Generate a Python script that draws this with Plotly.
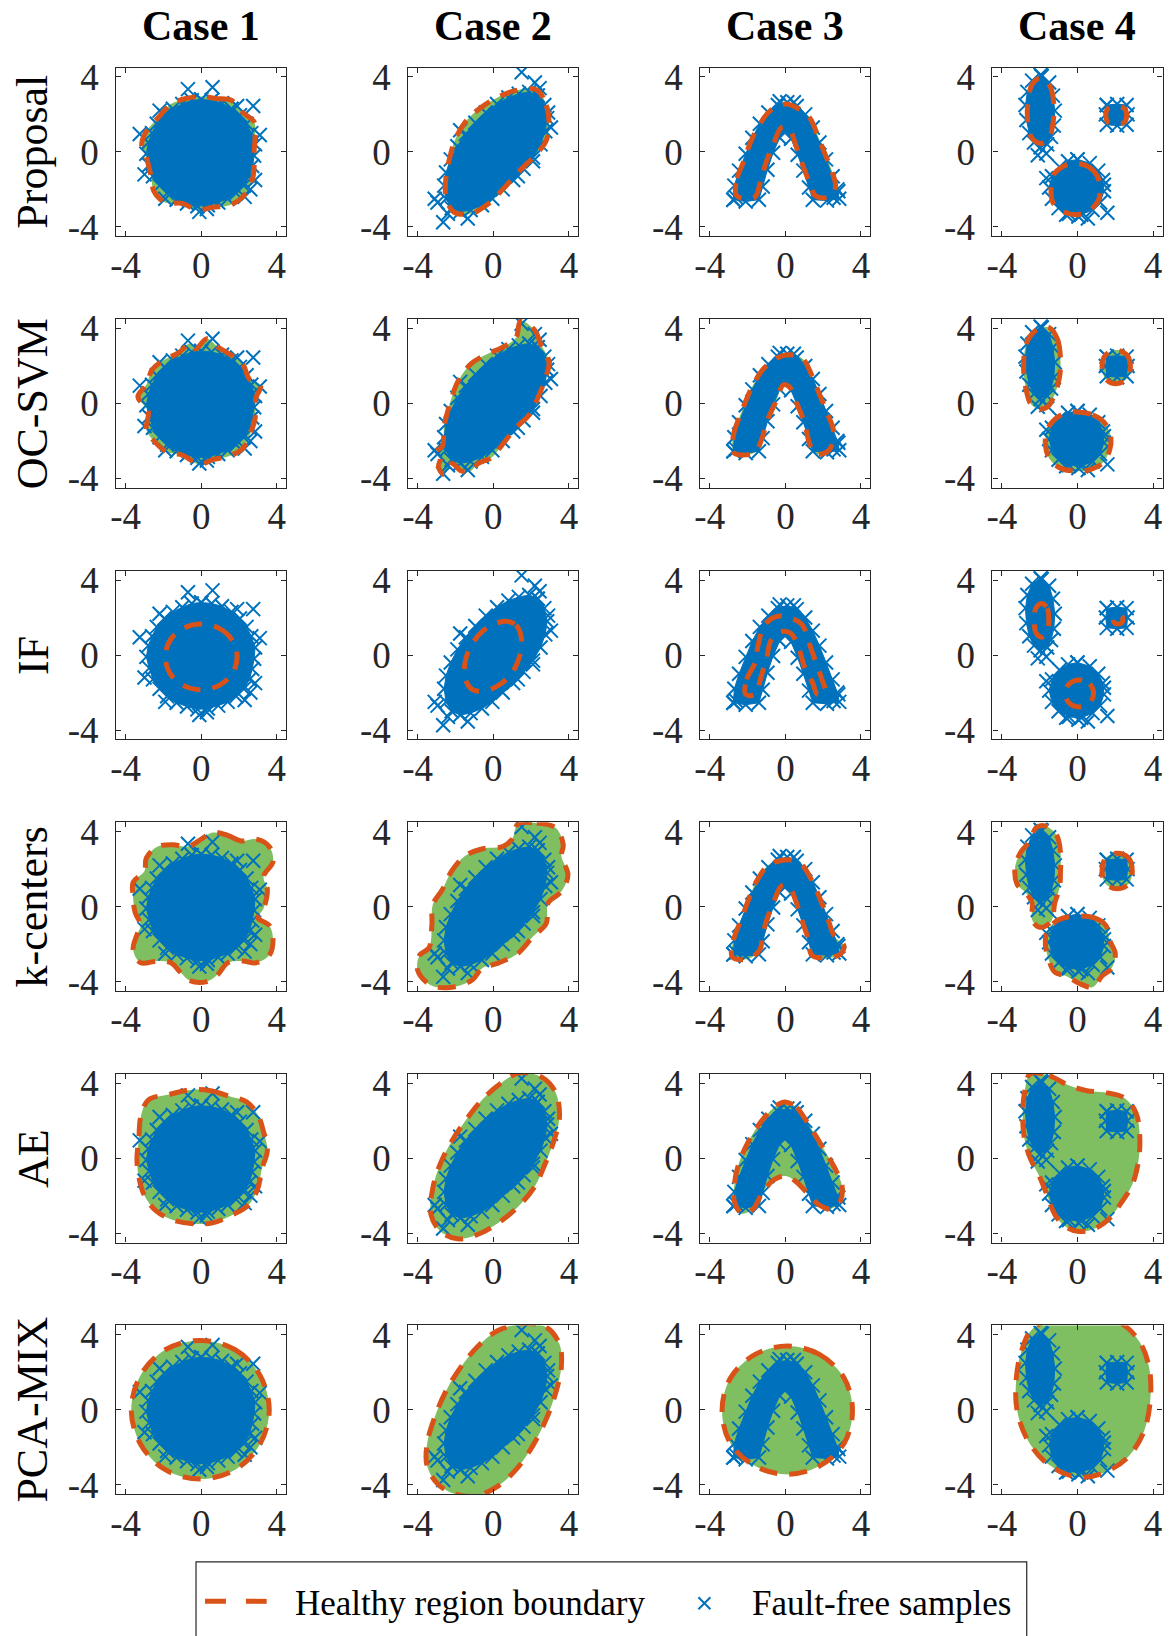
import plotly.graph_objects as go

BLUE = "#0072BD"
ORANGE = "#D95319"
GREEN = "#7FBF62"
AXIS = "#262626"
FONT = "Liberation Serif, Times New Roman, serif"

W, H = 1169, 1636

cases = ["Case 1", "Case 2", "Case 3", "Case 4"]
methods = ["Proposal", "OC-SVM", "IF", "k-centers", "AE", "PCA-MIX"]
tick_vals = [-4, 0, 4]
tick_text = ["-4", "0", "4"]
axis_range = [-4.5, 4.5]

# ---- fault-free samples: outer ring of the dense cloud (loops split by None) ----
ring_x = [
    [0.0, 0.55, 1.1, 1.6, 2.05, 2.4, 2.65, 2.85, 2.8, 2.7, 2.55, 2.25, 1.85, 1.4, 0.9, 0.35,
     -0.2, -0.75, -1.3, -1.8, -2.2, -2.55, -2.75, -2.9, -2.8, -2.6, -2.35, -1.95, -1.5, -1.0, -0.5],
    [2.35, 2.7, 2.85, 2.75, 2.5, 2.1, 1.6, 1.05, 0.5, -0.05, -0.6, -1.2, -1.75, -2.2, -2.5, -2.6,
     -2.5, -2.25, -1.9, -1.45, -0.95, -0.4, 0.2, 0.8, 1.35, 1.9],
    [-2.75, -2.7, -2.45, -2.1, -1.75, -1.35, -0.9, -0.4, 0.1, 0.6, 1.05, 1.45, 1.8, 2.15, 2.5, 2.75,
     2.85, 2.2, 1.45, 1.25, 0.95, 0.65, 0.3, 0.0, -0.3, -0.65, -0.95, -1.2, -1.4, -2.1],
    [-1.9, -1.5, -1.3, -1.2, -1.25, -1.4, -1.6, -1.95, -2.3, -2.55, -2.7, -2.75, -2.65, -2.4, None,
     0.0, 0.65, 1.1, 1.35, 1.4, 1.2, 0.8, 0.2, -0.45, -1.0, -1.35, -1.5, -1.35, -0.95, -0.5, None,
     1.55, 2.1, 2.6, 2.65, 2.6, 2.1, 1.55, 1.5],
]
ring_y = [
    [2.8, 2.75, 2.6, 2.3, 1.95, 1.5, 1.0, 0.4, -0.2, -0.75, -1.3, -1.8, -2.2, -2.5, -2.7, -2.85,
     -2.9, -2.75, -2.55, -2.2, -1.8, -1.3, -0.7, -0.1, 0.5, 1.0, 1.5, 1.95, 2.3, 2.55, 2.75],
    [3.0, 2.5, 1.8, 1.1, 0.4, -0.3, -0.9, -1.5, -2.0, -2.5, -2.85, -3.1, -3.2, -3.0, -2.5, -1.8,
     -1.1, -0.4, 0.3, 0.95, 1.55, 2.1, 2.55, 2.9, 3.1, 3.2],
    [-2.55, -1.8, -1.0, -0.1, 0.75, 1.5, 2.1, 2.5, 2.65, 2.45, 2.0, 1.3, 0.5, -0.4, -1.3, -2.0,
     -2.5, -2.6, -2.55, -1.9, -1.0, -0.15, 0.7, 1.1, 0.75, -0.05, -0.95, -1.85, -2.55, -2.65],
    [4.05, 3.7, 3.0, 2.2, 1.4, 0.8, 0.4, 0.25, 0.5, 1.0, 1.7, 2.5, 3.2, 3.8, None,
     -0.4, -0.6, -1.0, -1.5, -2.1, -2.7, -3.1, -3.35, -3.3, -3.0, -2.5, -1.9, -1.3, -0.8, -0.5, None,
     2.5, 2.55, 2.5, 2.0, 1.45, 1.4, 1.45, 2.0],
]

# ---- isolated fault-free samples outside the dense cloud ----
out_x = [
    [-0.7, 0.6, 2.75, 3.1, -3.25, -3.0, 2.6, 2.85, -0.1, 0.3, 1.9, -2.2, 2.3, -1.9],
    [1.5, 2.2, 2.45, 2.9, 3.05, -1.75, -2.95, -2.65, -1.35, -2.4, 2.1, 1.3, -3.1],
    [2.8, -2.6, 2.55, -0.3, 0.45],
    [-2.1, -1.65, -1.65, 1.4, 1.58, 0.55, -0.6, 0.05, -1.95],
]
out_y = [
    [3.35, 3.45, 2.45, 0.9, 0.95, -1.2, -2.0, -1.5, -3.2, -3.05, 2.45, 2.2, -2.4, -2.5],
    [4.25, 3.7, 3.4, 2.1, 1.3, 1.15, -2.7, -3.75, -3.55, -3.3, -0.5, -1.3, -2.5],
    [-2.1, -2.45, -2.45, 2.7, 2.65],
    [-0.18, -0.09, -1.4, -1.75, -3.25, -3.55, -3.35, -3.45, 4.1],
]

# ---- healthy region boundaries, one list per method, one entry per case ----
proposal_bx = [
    [0, 0.8, 1.6, 2.2, 2.8, 2.85, 2.8, 2.8, 2.7, 2.2, 1.5, 0.6, -0.2, -1.0, -1.9, -2.5, -2.65,
     -2.9, -3.15, -2.9, -2.3, -1.6, -0.8],
    [2.3, 2.8, 2.95, 2.8, 2.3, 1.4, 0.5, -0.3, -1.2, -2.1, -2.5, -2.5, -2.3, -2.0, -1.4, -0.6, 0.4, 1.3],
    [-2.6, -2.55, -2.2, -1.85, -1.4, -0.8, 0, 0.7, 1.3, 1.7, 2.05, 2.45, 2.65, 2.3, 1.6, 1.3, 0.95,
     0.6, 0.2, -0.2, -0.6, -1.0, -1.3, -1.6, -2.1],
    [-1.95, -1.45, -1.25, -1.3, -1.5, -1.95, -2.45, -2.65, -2.6, -2.4, None,
     -0.1, 0.6, 1.05, 1.2, 1.1, 0.6, -0.1, -0.8, -1.3, -1.4, -1.25, -0.8, None,
     2.05, 2.5, 2.6, 2.5, 2.05, 1.6, 1.5, 1.6],
]
proposal_by = [
    [2.95, 2.85, 2.75, 2.1, 1.6, 0.8, 0.0, -0.8, -1.5, -2.4, -2.85, -2.95, -3.1, -2.75, -2.7, -2.1,
     -1.3, -0.3, 0.4, 1.1, 1.8, 2.55, 2.85],
    [3.3, 2.5, 1.6, 0.6, -0.1, -1.0, -2.0, -2.8, -3.3, -3.2, -2.4, -1.3, -0.3, 0.7, 1.7, 2.4, 3.0, 3.3],
    [-2.3, -1.4, -0.5, 0.5, 1.4, 2.2, 2.55, 2.3, 1.8, 0.9, 0.0, -1.0, -1.9, -2.4, -2.35, -1.7, -0.8,
     0.2, 1.2, 1.3, 0.5, -0.5, -1.5, -2.4, -2.5],
    [3.95, 3.5, 2.5, 1.5, 0.75, 0.45, 0.8, 1.8, 2.8, 3.6, None,
     -0.6, -0.8, -1.3, -1.95, -2.6, -3.15, -3.35, -3.15, -2.7, -1.95, -1.2, -0.8, None,
     2.45, 2.3, 1.95, 1.6, 1.45, 1.6, 1.95, 2.3],
]

ocsvm_bx = [
    [0.3, 0.9, 1.7, 2.2, 2.55, 3.15, 2.9, 2.85, 2.6, 2.2, 1.5, 0.6, -0.1, -1.0, -1.8, -2.5, -2.9,
     -2.8, -3.35, -2.9, -2.6, -2.0, -1.2, -0.6, -0.3],
    [1.45, 2.2, 2.5, 2.95, 2.7, 2.4, 1.9, 1.2, 0.4, -0.1, -0.8, -1.2, -1.7, -2.2, -2.6, -2.9, -2.8,
     -3.1, -2.7, -2.6, -2.35, -2.0, -1.8, -1.2, -0.4, 0.5, 1.2],
    [-2.75, -2.75, -2.3, -1.8, -1.2, -0.5, 0.2, 0.9, 1.4, 1.8, 2.2, 2.55, 2.3, 1.6, 1.3, 1.0, 0.6,
     0.2, -0.1, -0.5, -0.95, -1.25, -1.6, -2.3],
    [-1.5, -1.05, -0.9, -0.95, -1.2, -1.55, -2.0, -2.45, -2.75, -2.85, -2.7, -2.2, None,
     0.0, 0.8, 1.4, 1.75, 1.7, 1.3, 0.6, -0.2, -0.9, -1.45, -1.7, -1.6, -1.2, -0.6, None,
     2.05, 2.6, 2.8, 2.6, 2.05, 1.5, 1.3, 1.5],
]
ocsvm_by = [
    [3.45, 3.0, 2.5, 2.1, 1.3, 0.95, 0.3, -0.8, -1.6, -2.4, -2.8, -3.0, -3.25, -2.75, -2.6, -2.0,
     -1.4, -0.4, 0.35, 1.0, 1.8, 2.3, 2.7, 3.2, 2.9],
    [4.4, 3.9, 3.2, 2.2, 1.2, 0.4, -0.6, -1.3, -2.3, -2.9, -3.2, -3.6, -3.6, -3.2, -3.8, -3.4, -2.9,
     -2.6, -2.3, -1.2, -0.2, 0.9, 1.3, 2.1, 2.6, 3.0, 3.5],
    [-2.6, -1.7, -0.4, 0.8, 1.8, 2.4, 2.6, 2.4, 1.5, 0.5, -0.5, -1.5, -2.5, -2.7, -2.2, -1.0, 0.0,
     0.9, 1.0, 0.1, -0.9, -1.9, -2.6, -2.75],
    [4.05, 3.4, 2.4, 1.4, 0.5, -0.15, -0.3, -0.05, 0.9, 2.0, 3.2, 3.9, None,
     -0.45, -0.6, -1.0, -1.7, -2.5, -3.2, -3.55, -3.6, -3.45, -3.0, -2.2, -1.4, -0.85, -0.5, None,
     2.85, 2.6, 1.95, 1.3, 1.05, 1.3, 1.95, 2.6],
]

if_bx = [
    [0, 0.95, 1.65, 1.9, 1.65, 0.95, 0, -0.95, -1.65, -1.9, -1.65, -0.95],
    [0.6, 1.2, 1.5, 1.35, 0.95, 0.3, -0.4, -1.1, -1.5, -1.45, -1.05, -0.4],
    [-2.1, -2.05, -1.6, -1.45, -1.1, -0.5, 0.2, 0.9, 1.2, 1.55, 1.9, 2.1, 1.7, 1.45, 1.0, 0.7, 0.3,
     -0.2, -0.75, -1.0, -1.3, -1.6],
    [-1.9, -1.6, -1.52, -1.6, -1.9, -2.2, -2.28, -2.2, None,
     0.1, 0.65, 0.85, 0.65, 0.1, -0.45, -0.65, -0.45, None,
     2.15, 2.35, 2.4, 2.35, 2.15, 1.95, 1.9, 1.95],
]
if_by = [
    [1.65, 1.42, 0.78, -0.1, -0.98, -1.62, -1.85, -1.62, -0.98, -0.1, 0.78, 1.42],
    [1.8, 1.6, 0.8, -0.2, -1.0, -1.6, -1.9, -1.85, -1.2, -0.2, 0.7, 1.4],
    [-2.1, -1.3, -0.4, 0.5, 1.6, 2.05, 2.0, 1.6, 0.8, -0.2, -1.2, -2.0, -2.1, -1.5, -0.6, 0.4, 1.15,
     1.25, 0.8, -0.2, -1.2, -2.1],
    [2.75, 2.5, 1.85, 1.2, 0.95, 1.2, 1.85, 2.5, None,
     -1.33, -1.55, -2.05, -2.55, -2.77, -2.55, -2.05, -1.55, None,
     2.15, 2.08, 1.9, 1.72, 1.65, 1.72, 1.9, 2.08],
]

kcenters_bx = [
    [0.6, 1.4, 2.1, 2.9, 3.6, 3.8, 3.3, 3.5, 3.3, 3.0, 3.6, 3.8, 3.6, 2.9, 2.2, 1.4, 0.9, 0.3, -0.6,
     -1.1, -1.6, -2.3, -3.2, -3.6, -3.4, -3.2, -3.5, -3.6, -3.6, -3.0, -2.9, -2.3, -1.5, -0.7, 0.0],
    [1.3, 2.3, 3.3, 3.7, 3.6, 3.95, 3.6, 2.9, 2.8, 2.1, 1.3, 0.3, -0.6, -1.1, -2.2, -3.3, -4.0, -3.9,
     -3.4, -3.25, -3.2, -2.7, -2.2, -1.5, -0.5, 0.5, 1.0],
    [-2.8, -2.75, -2.3, -1.9, -1.5, -0.9, 0.1, 0.8, 1.4, 1.8, 2.2, 2.6, 3.1, 2.9, 2.0, 1.4, 1.2, 0.9,
     0.55, 0.2, -0.2, -0.6, -0.95, -1.2, -1.35, -2.0],
    [-1.7, -1.1, -0.9, -0.9, -0.95, -1.2, -1.4, -2.0, -2.4, -2.4, -2.7, -3.2, -3.3, -3.0, -2.5, -2.2, None,
     0.0, 0.9, 1.5, 1.7, 2.0, 1.8, 1.3, 0.8, 0.1, -0.6, -1.2, -1.5, -1.7, -1.6, -1.0, None,
     2.1, 2.7, 2.9, 2.7, 2.1, 1.5, 1.3, 1.5],
]
kcenters_by = [
    [3.95, 3.8, 3.5, 3.6, 3.2, 2.4, 1.6, 0.9, -0.1, -0.6, -1.0, -1.8, -2.6, -3.0, -2.9, -3.0, -3.6,
     -4.0, -3.95, -3.5, -3.0, -2.9, -3.0, -2.3, -1.5, -1.0, -0.3, 0.5, 1.3, 1.9, 2.6, 3.2, 3.3, 3.2, 3.6],
    [4.4, 4.45, 4.2, 3.3, 2.7, 1.7, 0.8, 0.2, -0.9, -1.6, -2.5, -3.0, -3.3, -3.9, -4.3, -4.2, -3.4,
     -2.6, -2.2, -1.0, 0.1, 0.9, 1.9, 2.7, 3.1, 3.2, 3.6],
    [-2.7, -1.8, -0.6, 0.5, 1.4, 2.2, 2.5, 2.3, 1.4, 0.5, -0.5, -1.6, -2.1, -2.55, -2.75, -2.6, -1.7,
     -0.8, 0.3, 1.05, 1.1, 0.3, -0.6, -1.5, -2.3, -2.8],
    [4.3, 3.8, 2.9, 1.8, 1.0, 0.2, -0.8, -1.1, -0.7, 0.2, 0.7, 1.2, 2.1, 2.9, 3.5, 4.2, None,
     -0.5, -0.6, -1.0, -1.8, -2.5, -3.3, -3.7, -4.3, -4.1, -3.7, -3.5, -2.9, -2.0, -1.3, -0.7, None,
     2.85, 2.6, 1.9, 1.2, 0.95, 1.2, 1.9, 2.6],
]

ae_bx = [
    [-0.5, 0.5, 1.5, 2.4, 3.0, 3.3, 3.5, 3.2, 3.0, 2.5, 1.7, 0.6, -0.4, -1.5, -2.4, -3.0, -3.3, -3.4,
     -3.3, -3.2, -2.8, -1.7],
    [1.4, 2.6, 3.3, 3.5, 3.2, 2.7, 2.2, 1.3, 0.2, -0.9, -1.9, -2.8, -3.3, -3.2, -2.8, -2.2, -1.4, -0.6, 0.4],
    [0, 0.6, 1.1, 1.6, 2.2, 2.7, 3.0, 2.9, 2.4, 1.8, 1.2, 0.5, 0, -0.6, -1.2, -1.7, -2.3, -2.7, -2.7,
     -2.5, -2.1, -1.6, -1.0, -0.5],
    [-2.5, -1.5, -0.5, 0.5, 1.5, 2.5, 3.1, 3.3, 3.2, 2.9, 2.3, 1.6, 0.8, 0.0, -0.7, -1.2, -1.6, -2.0,
     -2.5, -2.8, -2.9, -2.8],
]
ae_by = [
    [3.65, 3.6, 3.3, 3.0, 2.3, 1.4, 0.4, -0.6, -1.6, -2.5, -3.0, -3.45, -3.5, -3.3, -2.8, -2.0, -1.0,
     0.0, 1.0, 2.2, 3.1, 3.4],
    [4.55, 4.3, 3.5, 2.2, 0.9, -0.4, -1.5, -2.6, -3.5, -4.1, -4.3, -3.9, -3.0, -1.6, -0.3, 0.9, 2.1, 3.1, 4.0],
    [3.0, 2.7, 2.0, 1.2, 0.2, -0.7, -1.5, -2.3, -2.7, -2.5, -1.9, -1.2, -0.95, -1.15, -1.8, -2.7, -2.95,
     -2.3, -1.4, -0.4, 0.6, 1.5, 2.3, 2.8],
    [4.5, 4.4, 3.9, 3.6, 3.5, 3.2, 2.4, 1.0, -0.3, -1.4, -2.4, -3.3, -3.8, -3.9, -3.6, -3.0, -2.0, -1.0,
     0.0, 1.0, 2.2, 3.5],
]

pcamix_bx = [
    [-0.05, 1.8, 3.1, 3.6, 3.1, 1.8, -0.05, -1.9, -3.2, -3.7, -3.2, -1.9],
    [1.6, 2.8, 3.5, 3.6, 3.3, 2.8, 2.1, 1.2, 0.2, -0.9, -2.0, -2.9, -3.5, -3.5, -3.1, -2.5, -1.7, -0.8, 0.2],
    [0.1, 1.8, 3.1, 3.55, 3.1, 1.8, 0.1, -1.6, -2.9, -3.35, -2.9, -1.6],
    [-1.0, 0.8, 2.3, 3.3, 3.8, 3.85, 3.5, 2.6, 1.3, 0.3, -0.7, -1.8, -2.7, -3.2, -3.25, -3.0, -2.4],
]
pcamix_by = [
    [3.7, 3.2, 1.85, 0, -1.85, -3.2, -3.7, -3.2, -1.85, 0, 1.85, 3.2],
    [4.6, 4.4, 3.5, 2.3, 0.9, -0.5, -1.9, -3.2, -4.1, -4.6, -4.5, -4.0, -3.0, -1.8, -0.4, 1.0, 2.3, 3.4, 4.2],
    [3.4, 2.95, 1.7, -0.05, -1.8, -3.0, -3.45, -3.0, -1.8, -0.05, 1.7, 2.95],
    [4.9, 4.9, 4.6, 3.6, 2.2, 0.5, -1.2, -2.6, -3.4, -3.6, -3.4, -2.7, -1.5, 0.0, 1.5, 3.0, 4.3],
]

boundaries_x = [proposal_bx, ocsvm_bx, if_bx, kcenters_bx, ae_bx, pcamix_bx]
boundaries_y = [proposal_by, ocsvm_by, if_by, kcenters_by, ae_by, pcamix_by]


def close_loops(xs, ys):
    """Repeat the first vertex of every None-separated loop at its end."""
    cx, cy, sx, sy = [], [], [], []
    for x, y in list(zip(xs, ys)) + [(None, None)]:
        if x is None:
            if sx:
                cx += sx + [sx[0], None]
                cy += sy + [sy[0], None]
            sx, sy = [], []
        else:
            sx.append(x)
            sy.append(y)
    return cx[:-1], cy[:-1]


# ---- page geometry (pixels) ----
col_left = [110.7, 404.3, 697.9, 991.5]
row_top = [57.3 + 255.0 * r for r in range(6)]
box = 171.0

fig = go.Figure()
layout = dict(
    width=W, height=H, autosize=False,
    margin=dict(l=0, r=0, t=0, b=0),
    paper_bgcolor="white", plot_bgcolor="rgba(0,0,0,0)",
    showlegend=False, hovermode=False,
)

sample_marker = dict(symbol="x-thin", size=14, color=BLUE, line=dict(width=2, color=BLUE))

for r in range(6):
    for c in range(4):
        k = r * 4 + c + 1
        xa = "x" if k == 1 else f"x{k}"
        ya = "y" if k == 1 else f"y{k}"
        bx, by = close_loops(boundaries_x[r][c], boundaries_y[r][c])
        sx, sy = close_loops(ring_x[c], ring_y[c])

        # healthy region (green area)
        fig.add_trace(go.Scatter(
            x=bx, y=by, xaxis=xa, yaxis=ya, mode="lines", fill="toself",
            fillcolor=GREEN, line=dict(width=0, shape="spline", smoothing=1.0, color=GREEN),
        ))
        # dense cloud of fault-free samples
        fig.add_trace(go.Scatter(
            x=sx, y=sy, xaxis=xa, yaxis=ya, mode="lines+markers", fill="toself",
            fillcolor=BLUE, line=dict(width=1, color=BLUE), marker=sample_marker,
        ))
        # isolated fault-free samples
        fig.add_trace(go.Scatter(
            x=out_x[c], y=out_y[c], xaxis=xa, yaxis=ya, mode="markers", marker=sample_marker,
        ))
        # healthy region boundary
        fig.add_trace(go.Scatter(
            x=bx, y=by, xaxis=xa, yaxis=ya, mode="lines",
            line=dict(color=ORANGE, width=5, dash="18px,12px", shape="spline", smoothing=1.0),
        ))

        common = dict(
            range=axis_range, tickvals=tick_vals, ticktext=tick_text,
            ticks="inside", ticklen=5, tickwidth=1, tickcolor=AXIS,
            showline=True, linewidth=1.2, linecolor=AXIS, mirror="ticks",
            showgrid=False, zeroline=False, fixedrange=True,
            tickfont=dict(family=FONT, size=37, color=AXIS),
        )
        x0 = col_left[c] / W
        x1 = (col_left[c] + box) / W
        y1 = 1 - row_top[r] / H
        y0 = 1 - (row_top[r] + box) / H
        layout["xaxis" if k == 1 else f"xaxis{k}"] = dict(
            common, domain=[x0, x1], anchor=ya, ticklabelstandoff=-4)
        layout["yaxis" if k == 1 else f"yaxis{k}"] = dict(
            common, domain=[y0, y1], anchor=xa, ticklabelstandoff=9)

# ---- legend drawn on a pixel-coordinate overlay ----
layout["xaxis25"] = dict(domain=[0, 1], range=[0, W], visible=False, fixedrange=True, anchor="y25")
layout["yaxis25"] = dict(domain=[0, 1], range=[H, 0], visible=False, fixedrange=True, anchor="x25")
fig.add_trace(go.Scatter(
    x=[200, 262], y=[1612, 1612], xaxis="x25", yaxis="y25", mode="lines",
    line=dict(color=ORANGE, width=5, dash="21px,20px"), name="Healthy region boundary",
))
fig.add_trace(go.Scatter(
    x=[702], y=[1614], xaxis="x25", yaxis="y25", mode="markers",
    marker=dict(symbol="x-thin", size=12, color=BLUE, line=dict(width=2, color=BLUE)),
    name="Fault-free samples",
))

annotations = []
for c, name in enumerate(cases):
    annotations.append(dict(
        x=(col_left[c] + box / 2) / W, y=1 - 15 / H, xref="paper", yref="paper",
        text=f"<b>{name}</b>", showarrow=False, xanchor="center", yanchor="middle",
        font=dict(family=FONT, size=42, color="black"),
    ))
for r, name in enumerate(methods):
    annotations.append(dict(
        x=27 / W, y=1 - (row_top[r] + box / 2) / H, xref="paper", yref="paper",
        text=name, showarrow=False, textangle=-90, xanchor="center", yanchor="middle",
        font=dict(family=FONT, size=44, color="black"),
    ))
annotations.append(dict(
    x=288 / W, y=1 - 1614 / H, xref="paper", yref="paper", text="Healthy region boundary",
    showarrow=False, xanchor="left", yanchor="middle", font=dict(family=FONT, size=35, color="black"),
))
annotations.append(dict(
    x=748 / W, y=1 - 1614 / H, xref="paper", yref="paper", text="Fault-free samples",
    showarrow=False, xanchor="left", yanchor="middle", font=dict(family=FONT, size=35, color="black"),
))
layout["annotations"] = annotations
layout["shapes"] = [dict(
    type="rect", xref="paper", yref="paper", x0=191 / W, x1=1026 / W,
    y0=-0.05, y1=1 - 1572 / H, line=dict(color=AXIS, width=1.2), fillcolor="rgba(0,0,0,0)",
    layer="above",
)]

fig.update_layout(**layout)
fig.write_html("out.html")
